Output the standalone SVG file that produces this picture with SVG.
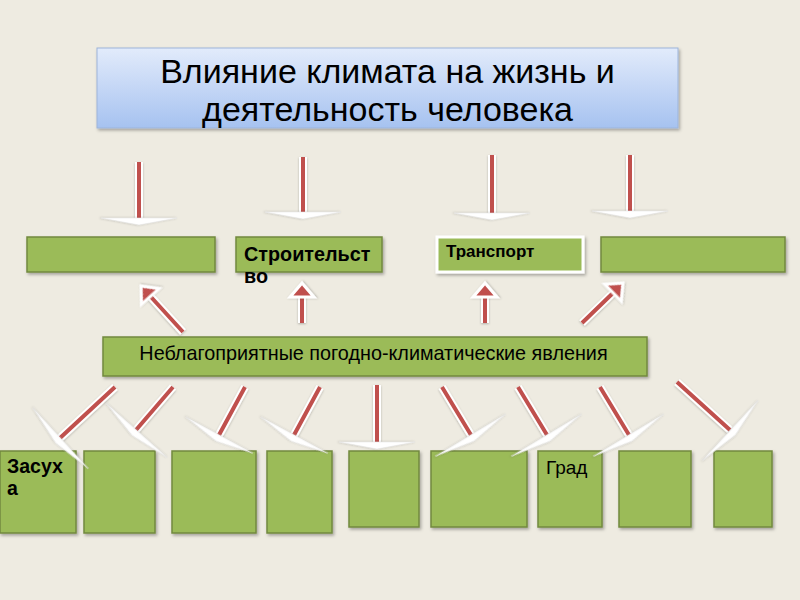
<svg xmlns="http://www.w3.org/2000/svg" width="800" height="600" viewBox="0 0 800 600">
<defs>
<linearGradient id="tg" x1="0" y1="0" x2="0" y2="1">
<stop offset="0" stop-color="#E2EBFB"/>
<stop offset="1" stop-color="#A6C2F0"/>
</linearGradient>
<filter id="sh" x="-10%" y="-20%" width="130%" height="150%">
<feDropShadow dx="1.5" dy="2" stdDeviation="1.5" flood-color="#000" flood-opacity="0.3"/>
</filter>
<filter id="hs" x="-50%" y="-50%" width="200%" height="200%">
<feDropShadow dx="0" dy="1" stdDeviation="1" flood-color="#000" flood-opacity="0.25"/>
</filter>
<polygon id="dh" points="-1,-38 -1,38 6,0"/>
<polygon id="uh" points="-14,-12 -14,12 0,0"/>
<path id="shafts" d="M139,162 V219 M303,157 V213 M492,155 V214 M630,155 V212
M183,332 L151,297 M302,323 V296 M485,323 V296 M582,323 L613,293
M115,387 L60,438 M173,387 L136,430 M245,387 L219,435 M320,387 L294,435 M377,385 V443
M442,387 L471,435 M518,387 L547,435 M600,387 L629,435 M677,382 L730,430"/>
</defs>
<style>
.bg{fill:#EEEBE1}
.box{fill:#9BBB59;stroke:#71893F;stroke-width:1.5;filter:url(#sh)}
.t{font-family:"Liberation Sans",Arial,sans-serif;fill:#000}
.b{font-weight:bold}
.dhead{fill:#FFFFFF;stroke:#E0E0E0;stroke-width:0.5;filter:url(#hs)}
.uhead{fill:#C0504D;stroke:#FFFFFF;stroke-width:3;stroke-linejoin:miter;filter:url(#hs)}
</style>
<rect class="bg" x="0" y="0" width="800" height="600"/>

<g id="title">
<rect x="97" y="48" width="581" height="80" fill="url(#tg)" stroke="#9DB4DA" stroke-width="1" filter="url(#sh)"/>
<text class="t" x="387.5" y="83" font-size="34" text-anchor="middle">Влияние климата на жизнь и</text>
<text class="t" x="387.5" y="121" font-size="34" text-anchor="middle">деятельность человека</text>
</g>

<g id="top1"><rect class="box" x="27" y="237" width="188" height="35"/></g>
<g id="top2"><rect class="box" x="236" y="237" width="146" height="35"/>
<text class="t b" x="244" y="261" font-size="19.8">Строительст</text>
<text class="t b" x="244" y="283" font-size="19.8">во</text></g>
<g id="top3"><rect x="437" y="237" width="146" height="35" fill="#9BBB59" stroke="#FFFFFF" stroke-width="3" filter="url(#sh)"/>
<text class="t b" x="446" y="257" font-size="17">Транспорт</text></g>
<g id="top4"><rect class="box" x="601" y="237" width="184" height="35"/></g>

<g id="mid"><rect class="box" x="103" y="337" width="544" height="39"/>
<text class="t" x="373.5" y="360" font-size="19.8" text-anchor="middle">Неблагоприятные погодно-климатические явления</text></g>

<g id="b1"><rect class="box" x="0" y="451" width="76" height="82"/>
<text class="t b" x="7" y="473" font-size="19.5">Засух</text>
<text class="t b" x="7" y="495" font-size="19.5">а</text></g>
<g id="b2"><rect class="box" x="84" y="451" width="71" height="82"/></g>
<g id="b3"><rect class="box" x="172" y="451" width="84" height="82"/></g>
<g id="b4"><rect class="box" x="267" y="451" width="65" height="82"/></g>
<g id="b5"><rect class="box" x="349" y="451" width="70" height="76"/></g>
<g id="b6"><rect class="box" x="431" y="451" width="96" height="76"/></g>
<g id="b7"><rect class="box" x="538" y="451" width="64" height="76"/>
<text class="t" x="546" y="474" font-size="19">Град</text></g>
<g id="b8"><rect class="box" x="619" y="451" width="72" height="76"/></g>
<g id="b9"><rect class="box" x="714" y="451" width="58" height="76"/></g>

<g id="connectors">
<use href="#shafts" fill="none" stroke="#FFFFFF" stroke-width="8" filter="url(#hs)"/>
<use href="#shafts" fill="none" stroke="#C0504D" stroke-width="4"/>
<use href="#dh" class="dhead" transform="translate(139,219) rotate(90)"/>
<use href="#dh" class="dhead" transform="translate(303,213) rotate(90)"/>
<use href="#dh" class="dhead" transform="translate(492,214) rotate(90)"/>
<use href="#dh" class="dhead" transform="translate(630,212) rotate(90)"/>
<use href="#uh" class="uhead" transform="translate(141,286) rotate(-131.7)"/>
<use href="#uh" class="uhead" transform="translate(302,283) rotate(-90)"/>
<use href="#uh" class="uhead" transform="translate(485,283) rotate(-90)"/>
<use href="#uh" class="uhead" transform="translate(623,283) rotate(-44.3)"/>
<use href="#dh" class="dhead" transform="translate(60,439) rotate(137.6) scale(1,1.08)"/>
<use href="#dh" class="dhead" transform="translate(136,431) rotate(131.6) scale(1,1.08)"/>
<use href="#dh" class="dhead" transform="translate(219,436) rotate(118.4)"/>
<use href="#dh" class="dhead" transform="translate(294,436) rotate(118.4)"/>
<use href="#dh" class="dhead" transform="translate(377,443) rotate(90)"/>
<use href="#dh" class="dhead" transform="translate(471,436) rotate(59) scale(1,1.08)"/>
<use href="#dh" class="dhead" transform="translate(547,436) rotate(59) scale(1,1.08)"/>
<use href="#dh" class="dhead" transform="translate(629,436) rotate(59) scale(1,1.08)"/>
<use href="#dh" class="dhead" transform="translate(731,431) rotate(42.8) scale(1,1.08)"/>
</g>
</svg>
